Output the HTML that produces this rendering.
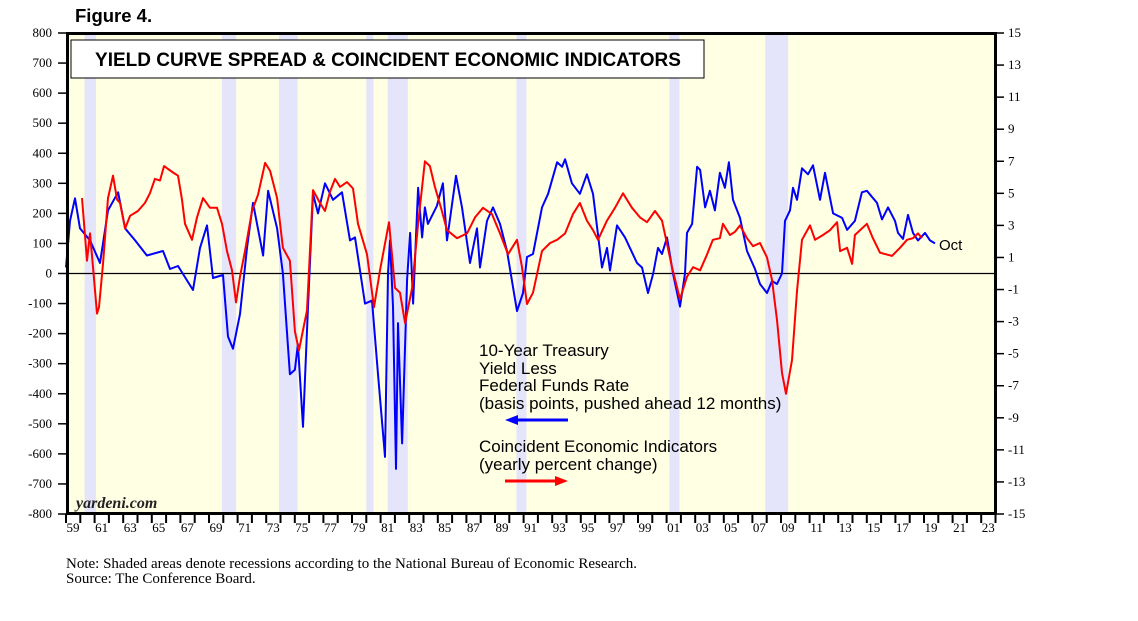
<!DOCTYPE html>
<html><head><meta charset="utf-8"><style>
body{margin:0;background:#fff;}
svg{display:block;}
</style></head><body>
<svg id="chart" width="1138" height="621" viewBox="0 0 1138 621" xmlns="http://www.w3.org/2000/svg">
<text x="75" y="22" font-family="Liberation Sans, sans-serif" font-weight="bold" font-size="18.5">Figure 4.</text>
<rect x="66" y="33" width="931" height="481" fill="#ffffe3"/>
<g id="recessions"></g>
<line x1="66" x2="997" y1="273.5" y2="273.5" stroke="#000" stroke-width="1.2"/>
<g id="series"></g>
<rect x="67.5" y="33.5" width="928" height="480" fill="none" stroke="#000" stroke-width="3"/>
<rect x="71" y="40" width="633" height="38" fill="#fff" stroke="#000" stroke-width="1"/>
<text x="388" y="66" text-anchor="middle" font-family="Liberation Sans, sans-serif" font-weight="bold" font-size="19">YIELD CURVE SPREAD &amp; COINCIDENT ECONOMIC INDICATORS</text>
<g id="axes" font-family="Liberation Serif, serif" font-size="13"></g>
<g font-family="Liberation Sans, sans-serif" font-size="17" fill="#000">
<text x="479" y="356">10-Year Treasury</text>
<text x="479" y="374">Yield Less</text>
<text x="479" y="391">Federal Funds Rate</text>
<text x="479" y="409">(basis points, pushed ahead 12 months)</text>
<line x1="515" x2="568" y1="420" y2="420" stroke="#0000ff" stroke-width="3"/>
<polygon points="505,420 518,415 518,425" fill="#0000ff"/>
<text x="479" y="452">Coincident Economic Indicators</text>
<text x="479" y="470">(yearly percent change)</text>
<line x1="505" x2="558" y1="481" y2="481" stroke="#ff0000" stroke-width="3"/>
<polygon points="568,481 555,476 555,486" fill="#ff0000"/>
<text x="939" y="250" font-size="15">Oct</text>
</g>
<text x="76" y="508" font-family="Liberation Serif, serif" font-style="italic" font-weight="bold" font-size="16" fill="#222">yardeni.com</text>
<text x="66" y="568" font-family="Liberation Serif, serif" font-size="15">Note: Shaded areas denote recessions according to the National Bureau of Economic Research.</text>
<text x="66" y="583" font-family="Liberation Serif, serif" font-size="15">Source: The Conference Board.</text>
</svg>
<script>
const recessionStarts=[1960.3,1969.9,1973.9,1980.0,1981.5,1990.5,2001.2,2007.9];
const recessionEnds=[1961.1,1970.9,1975.2,1980.5,1982.9,1991.2,2001.9,2009.5];
const leftTicks=[800,700,600,500,400,300,200,100,0,-100,-200,-300,-400,-500,-600,-700,-800];
const rightTicks=[15,13,11,9,7,5,3,1,-1,-3,-5,-7,-9,-11,-13,-15];
const yearLabels=["59","61","63","65","67","69","71","73","75","77","79","81","83","85","87","89","91","93","95","97","99","01","03","05","07","09","11","13","15","17","19","21","23"];
const spreadYears=[1959.0,1959.28,1959.63,1959.98,1960.68,1961.38,1961.94,1962.64,1963.13,1963.83,1964.66,1965.78,1966.27,1966.83,1967.88,1968.37,1968.86,1969.28,1969.98,1970.33,1970.68,1971.17,1971.66,1972.08,1972.78,1973.13,1973.76,1974.17,1974.66,1975.01,1975.22,1975.57,1975.92,1976.27,1976.62,1977.11,1977.67,1978.30,1978.86,1979.21,1979.91,1980.40,1980.82,1981.31,1981.52,1981.66,1981.87,1982.08,1982.22,1982.50,1982.85,1983.06,1983.27,1983.62,1983.90,1984.10,1984.31,1984.94,1985.36,1985.64,1986.27,1986.69,1987.25,1987.74,1987.95,1988.44,1988.86,1989.35,1989.84,1990.54,1990.96,1991.24,1991.66,1992.29,1992.71,1993.34,1993.69,1993.90,1994.38,1994.94,1995.43,1995.85,1996.48,1996.83,1997.04,1997.53,1998.09,1998.93,1999.28,1999.70,2000.06,2000.40,2000.68,2001.03,2001.45,2001.94,2002.29,2002.43,2002.78,2003.13,2003.34,2003.69,2004.03,2004.38,2004.73,2005.08,2005.36,2005.64,2006.13,2006.62,2007.18,2007.53,2008.02,2008.37,2008.72,2009.07,2009.28,2009.63,2009.84,2010.12,2010.47,2010.89,2011.24,2011.73,2012.08,2012.64,2013.27,2013.62,2014.17,2014.66,2015.01,2015.71,2016.06,2016.48,2016.97,2017.18,2017.53,2017.88,2018.23,2018.58,2019.07,2019.42,2019.77];
const spreadValues=[20,175,250,150,110,35,210,270,150,110,60,75,15,25,-55,85,160,-15,-5,-210,-250,-135,85,235,60,275,150,0,-335,-320,-235,-510,-110,265,200,300,245,270,110,120,-100,-90,-335,-610,0,110,-110,-650,-165,-565,-20,135,-100,285,120,220,165,225,300,110,325,220,35,150,20,175,220,165,75,-125,-65,55,65,220,265,370,355,380,300,265,330,265,20,85,10,160,120,35,20,-65,0,85,65,120,0,-110,0,135,165,355,345,220,275,210,335,285,370,245,185,75,15,-35,-65,-25,-35,0,175,210,285,245,350,330,360,245,335,200,185,145,175,270,275,235,180,220,175,135,115,195,135,110,135,110,100];
const ceiYears=[1960.12,1960.47,1960.68,1960.89,1961.17,1961.31,1961.59,1961.94,1962.29,1962.57,1962.78,1963.13,1963.48,1964.03,1964.52,1964.87,1965.22,1965.57,1965.85,1966.48,1966.83,1967.11,1967.32,1967.81,1968.16,1968.58,1969.07,1969.56,1969.91,1970.26,1970.61,1970.89,1971.17,1971.52,1972.01,1972.43,1972.92,1973.27,1973.76,1974.17,1974.66,1975.01,1975.29,1975.85,1976.27,1976.76,1977.11,1977.46,1977.81,1978.16,1978.65,1979.07,1979.42,1980.05,1980.54,1980.96,1981.59,1982.01,1982.36,1982.71,1983.20,1983.62,1984.10,1984.45,1984.80,1985.29,1985.64,1986.34,1987.04,1987.60,1988.16,1988.79,1989.35,1989.91,1990.54,1990.89,1991.24,1991.66,1992.29,1992.85,1993.34,1993.90,1994.45,1994.94,1995.43,1995.85,1996.20,1996.83,1997.39,1997.95,1998.58,1999.14,1999.63,2000.19,2000.68,2001.38,2001.94,2002.43,2002.85,2003.34,2003.83,2004.24,2004.73,2004.94,2005.43,2005.78,2006.13,2006.62,2007.04,2007.53,2008.02,2008.37,2008.72,2009.07,2009.35,2009.77,2010.12,2010.47,2011.03,2011.38,2011.94,2012.43,2012.92,2013.13,2013.62,2013.97,2014.17,2015.01,2015.43,2015.92,2016.76,2017.32,2017.81,2018.23,2018.58,2018.86];
const ceiValues=[4.7,0.8,2.5,0.4,-2.5,-2.1,0.6,4.7,6.1,4.6,4.4,2.8,3.6,3.9,4.4,5.0,5.9,5.8,6.7,6.3,6.1,4.6,3.1,2.1,3.5,4.7,4.1,4.1,3.1,1.4,0.2,-1.8,-0.2,1.4,3.9,4.9,6.9,6.4,4.7,1.6,0.8,-3.6,-4.8,-2.3,5.2,4.4,3.9,5.1,5.9,5.4,5.7,5.3,3.1,1.2,-2.1,0.2,3.2,-0.9,-1.2,-3.1,-0.9,3.1,7.0,6.7,5.4,3.9,2.7,2.2,2.5,3.5,4.1,3.7,2.5,1.2,2.1,0.4,-1.9,-1.2,1.4,1.9,2.1,2.5,3.7,4.4,3.3,2.7,2.1,3.3,4.1,5.0,4.1,3.5,3.2,3.9,3.3,0.4,-1.6,-0.2,0.4,0.2,1.2,2.1,2.2,3.1,2.4,2.6,3.0,2.2,1.7,1.9,1.0,-0.4,-2.9,-6.2,-7.5,-5.4,-1.1,2.1,3.0,2.1,2.4,2.7,3.2,1.4,1.6,0.6,2.4,3.1,2.2,1.3,1.1,1.6,2.1,2.2,2.5,2.2];

const NS="http://www.w3.org/2000/svg";
const X0=66,PXY=14.3,TOP=33,BOT=514;
function xs(y){return X0+(y-1959)*PXY;}
function yl(v){return 273.5-v*(BOT-TOP)/1600;}
function yr(v){return 273.5-v*(BOT-TOP)/30;}
function mk(tag,attrs,parent){const e=document.createElementNS(NS,tag);for(const k in attrs)e.setAttribute(k,attrs[k]);parent.appendChild(e);return e;}
const rg=document.getElementById('recessions');
recessionStarts.forEach((s,i)=>{
  const r=mk('rect',{x:xs(s),y:TOP,width:xs(recessionEnds[i])-xs(s),height:BOT-TOP,fill:'#e4e4fb'},rg);
  
  
});
const sg=document.getElementById('series');
const bp=spreadYears.map((y,i)=>xs(y).toFixed(1)+','+yl(spreadValues[i]).toFixed(1)).join(' ');
const bl=mk('polyline',{points:bp,fill:'none',stroke:'#0000ff','stroke-width':2,'stroke-linejoin':'round'},sg);


const rp=ceiYears.map((y,i)=>xs(y).toFixed(1)+','+yr(ceiValues[i]).toFixed(1)).join(' ');
const rl=mk('polyline',{points:rp,fill:'none',stroke:'#ff0000','stroke-width':2,'stroke-linejoin':'round'},sg);


const ag=document.getElementById('axes');
leftTicks.forEach(v=>{
  const y=yl(v);
  const t=mk('line',{x1:58,x2:66,y1:y,y2:y,stroke:'#000','stroke-width':1.5},ag);
  
  
  const l=mk('text',{x:52,y:y+4,'text-anchor':'end'},ag);l.textContent=v;
  
  
});
rightTicks.forEach(v=>{
  const y=yr(v);
  const t=mk('line',{x1:997,x2:1004,y1:y,y2:y,stroke:'#000','stroke-width':1.5},ag);
  
  
  const l=mk('text',{x:1008,y:y+4},ag);l.textContent=v;
  
  
});
for(let yy=1959;yy<=2024;yy++){
  const x=xs(yy);
  const t=mk('line',{x1:x,x2:x,y1:BOT,y2:BOT+9,stroke:'#000','stroke-width':2},ag);
  
  
}
yearLabels.forEach((lab,i)=>{
  const l=mk('text',{x:xs(1959+2*i)+7,y:BOT+18,'text-anchor':'middle'},ag);l.textContent=lab;
  
  
});
</script>
</body></html>
